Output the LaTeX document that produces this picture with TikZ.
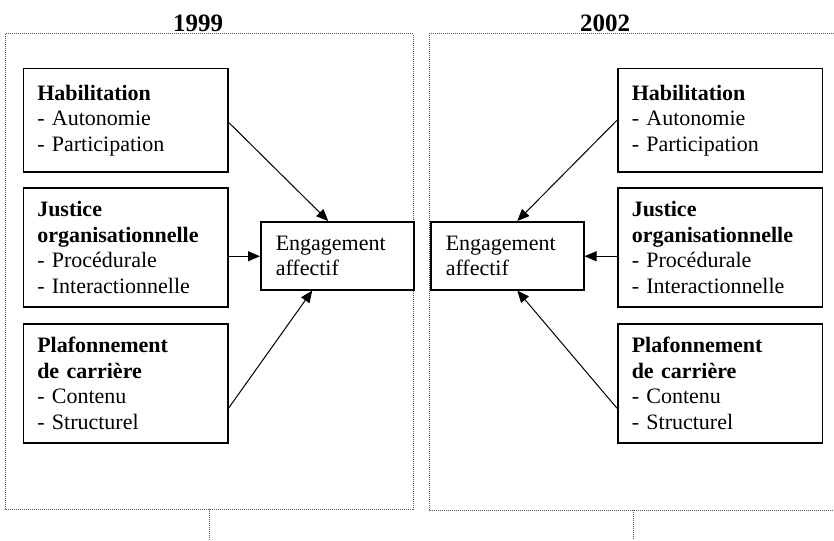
\documentclass[tikz,border=0pt]{standalone}
\usepackage{fontspec}
\setmainfont{Liberation Serif}
\usetikzlibrary{arrows.meta}
\tikzset{
  bx/.style={draw, line width=1.5pt, anchor=north west, align=left, inner xsep=14pt, inner ysep=4pt,
    font=\fontsize{22}{25.5}\selectfont},
  src/.style={bx, text width=176.5pt, minimum width=204.5pt},
  eng/.style={bx, inner xsep=15pt, text width=123pt, minimum width=153pt, minimum height=68pt},
  arr/.style={line width=1pt, -{Triangle[length=12pt,width=10pt]}},
  frm/.style={gray!70!black, line width=1pt, dash pattern=on 1pt off 1pt},
  yr/.style={anchor=base, font=\fontsize{25}{28}\selectfont\bfseries}
}
\begin{document}
\begin{tikzpicture}[x=1pt, y=-1pt]
    \useasboundingbox (0,0) rectangle (834,540);
    \draw [frm] (5,34) rectangle (413,509);
    \draw [frm] (209,509) -- (209,540);
    \draw [frm] (834,34) -- (429,34) -- (429,510) -- (834,510);
    \draw [frm] (633,510) -- (633,540);
    \node [yr] (y99) at (198,32) {1999};
    \node [yr] (y02) at (605,32) {2002};
    \node [src, minimum height=103pt] (hab1) at (22.5,68) {\textbf{Habilitation}\\- Autonomie\\- Participation};
    \node [src, minimum height=119pt] (jus1) at (22.5,187) {\textbf{Justice}\\\textbf{organisationnelle}\\- Procédurale\\- Interactionnelle};
    \node [src, minimum height=119pt] (pla1) at (22.5,323) {\textbf{Plafonnement}\\\textbf{de carrière}\\- Contenu\\- Structurel};
    \node [eng] (eng1) at (260,221) {Engagement\\affectif};
    \node [src, minimum height=103pt] (hab2) at (617,68) {\textbf{Habilitation}\\- Autonomie\\- Participation};
    \node [src, minimum height=119pt] (jus2) at (617,187) {\textbf{Justice}\\\textbf{organisationnelle}\\- Procédurale\\- Interactionnelle};
    \node [src, minimum height=119pt] (pla2) at (617,323) {\textbf{Plafonnement}\\\textbf{de carrière}\\- Contenu\\- Structurel};
    \node [eng] (eng2) at (430,221) {Engagement\\affectif};
    \draw [arr] ([yshift=-2pt]hab1.east) -- ([xshift=-9pt]eng1.north);
    \draw [arr] ([yshift=-9pt]jus1.east) -- ([yshift=-9pt]jus1.east -| eng1.west);
    \draw [arr] ([yshift=-25pt]pla1.east) -- ([xshift=-25pt]eng1.south);
    \draw [arr] (hab2.west) -- ([xshift=10pt]eng2.north);
    \draw [arr] ([yshift=-9pt]jus2.west) -- ([yshift=-9pt]jus2.west -| eng2.east);
    \draw [arr] ([yshift=-25pt]pla2.west) -- ([xshift=10pt]eng2.south);
\end{tikzpicture}
\end{document}
